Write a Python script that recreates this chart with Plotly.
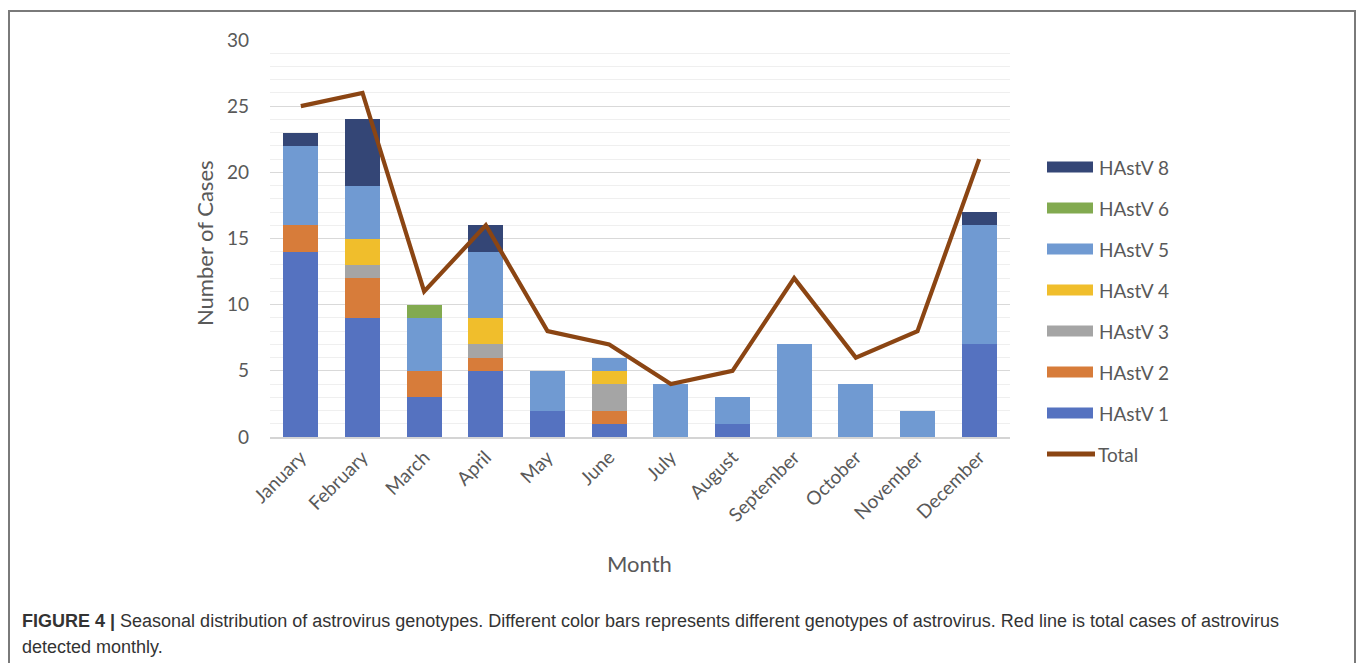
import plotly.graph_objects as go

months = ["January", "February", "March", "April", "May", "June", "July",
          "August", "September", "October", "November", "December"]
hastv1 = [14, 9, 3, 5, 2, 1, 0, 1, 0, 0, 0, 7]
hastv2 = [2, 3, 2, 1, 0, 1, 0, 0, 0, 0, 0, 0]
hastv3 = [0, 1, 0, 1, 0, 2, 0, 0, 0, 0, 0, 0]
hastv4 = [0, 2, 0, 2, 0, 1, 0, 0, 0, 0, 0, 0]
hastv5 = [6, 4, 4, 5, 3, 1, 4, 2, 7, 4, 2, 9]
hastv6 = [0, 0, 1, 0, 0, 0, 0, 0, 0, 0, 0, 0]
hastv8 = [1, 5, 0, 2, 0, 0, 0, 0, 0, 0, 0, 1]
total = [25, 26, 11, 16, 8, 7, 4, 5, 12, 6, 8, 21]

series = [
    ("HAstV 1", hastv1, "#5572C0"),
    ("HAstV 2", hastv2, "#D77C3A"),
    ("HAstV 3", hastv3, "#A5A5A5"),
    ("HAstV 4", hastv4, "#F0BE2C"),
    ("HAstV 5", hastv5, "#709AD2"),
    ("HAstV 6", hastv6, "#82AA50"),
    ("HAstV 8", hastv8, "#344676"),
]
line_color = "#8B4513"

W, H = 1360, 663
def px(x):
    return x / W
def py(y):
    return 1 - y / H

fig = go.Figure()
for name, vals, col in series:
    fig.add_trace(go.Bar(x=months, y=vals, name=name, marker=dict(color=col, line=dict(width=0)),
                         showlegend=False))
fig.add_trace(go.Scatter(x=months, y=total, name="Total", mode="lines",
                         line=dict(color=line_color, width=4.2), showlegend=False))

font = "Lato, 'Open Sans', sans-serif"
txt = "#595959"

shapes = []
annotations = []
# frame
shapes.append(dict(type="rect", xref="paper", yref="paper", x0=px(9), x1=px(1355),
                   y0=py(720), y1=py(11), line=dict(color="#7a7a7a", width=2), layer="below"))

# custom legend
legend_items = [s for s in series][::-1]
y0 = 167
for i, (name, vals, col) in enumerate(legend_items):
    yc = y0 + i * 41
    shapes.append(dict(type="rect", xref="paper", yref="paper", x0=px(1047), x1=px(1093),
                       y0=py(yc + 5.5), y1=py(yc - 5.5), fillcolor=col, line=dict(width=0)))
    annotations.append(dict(xref="paper", yref="paper", x=px(1097), y=py(yc), text=name,
                            showarrow=False, xanchor="left", yanchor="middle",
                            font=dict(family=font, size=19, color=txt)))
yc = y0 + 7 * 41
shapes.append(dict(type="line", xref="paper", yref="paper", x0=px(1047), x1=px(1095),
                   y0=py(yc), y1=py(yc), line=dict(color=line_color, width=5)))
annotations.append(dict(xref="paper", yref="paper", x=px(1096), y=py(yc), text="Total",
                        showarrow=False, xanchor="left", yanchor="middle",
                        font=dict(family=font, size=19, color=txt)))

# axis titles
annotations.append(dict(xref="paper", yref="paper", x=px(204), y=py(243), text="Number of Cases",
                        textangle=-90, showarrow=False, xanchor="center", yanchor="middle",
                        font=dict(family=font, size=22, color=txt)))
annotations.append(dict(xref="paper", yref="paper", x=px(639), y=py(563), text="Month",
                        showarrow=False, xanchor="center", yanchor="middle",
                        font=dict(family=font, size=22, color=txt)))

# caption
cap_font = "'Liberation Sans', Arial, sans-serif"
annotations.append(dict(xref="paper", yref="paper", x=px(20), y=py(621),
                        text="<b>FIGURE 4 |</b> Seasonal distribution of astrovirus genotypes. Different color bars represents different genotypes of astrovirus. Red line is total cases of astrovirus",
                        showarrow=False, xanchor="left", yanchor="middle",
                        font=dict(family=cap_font, size=18, color="#333333")))
annotations.append(dict(xref="paper", yref="paper", x=px(20), y=py(647),
                        text="detected monthly.",
                        showarrow=False, xanchor="left", yanchor="middle",
                        font=dict(family=cap_font, size=18, color="#333333")))

fig.update_layout(
    width=W, height=H,
    margin=dict(l=0, r=0, t=0, b=0, pad=0, autoexpand=False),
    paper_bgcolor="white", plot_bgcolor="white",
    barmode="stack", bargap=0.43,
    showlegend=False,
    shapes=shapes, annotations=annotations,
    xaxis=dict(domain=[px(270), px(1010)], type="category", range=[-0.5, 11.5], automargin=False,
               tickangle=-45, showgrid=False, showline=True, linecolor="#d4d4d4", linewidth=1.5,
               ticks="", tickfont=dict(family=font, size=19, color=txt), fixedrange=True),
    yaxis=dict(domain=[py(437), py(40)], range=[0, 30], dtick=5, showgrid=True, automargin=False,
               gridcolor="#d9d9d9", gridwidth=1.2, zeroline=False, showline=False, ticks="",
               ticklabelstandoff=20,
               minor=dict(dtick=1, showgrid=True, gridcolor="#efefef", gridwidth=1),
               tickfont=dict(family=font, size=19, color=txt)),
)

fig.write_html("out.html")
